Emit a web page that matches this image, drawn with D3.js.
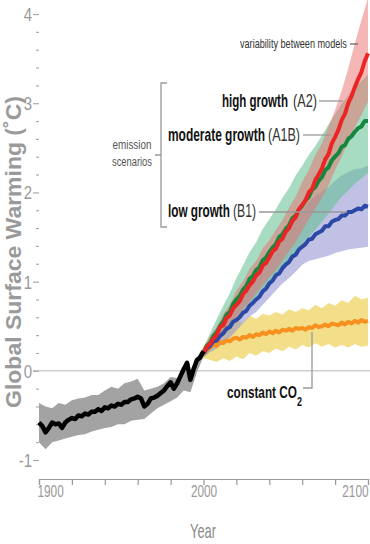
<!DOCTYPE html>
<html><head><meta charset="utf-8">
<script src="https://cdn.jsdelivr.net/npm/d3@7"></script>
<style>
html,body{margin:0;padding:0;background:#fff;}
svg{display:block;}
text{font-family:"Liberation Sans",Arial,sans-serif;}
</style></head><body>
<svg id="chart" width="370" height="544"></svg>
<script>
// ---------- DATA ----------
const histYears = [1900,1902,1904,1906,1908,1910,1912,1914,1916,1918,1920,1922,1924,1926,1928,1930,1932,1934,1936,1938,1940,1942,1944,1946,1948,1950,1952,1954,1956,1958,1960,1962,1964,1966,1968,1970,1972,1974,1976,1978,1980,1982,1984,1986,1988,1990,1992,1994,1996,1998,2000];
const histTemp = [-0.58,-0.62,-0.69,-0.64,-0.58,-0.60,-0.59,-0.64,-0.58,-0.55,-0.53,-0.54,-0.50,-0.51,-0.48,-0.49,-0.46,-0.46,-0.43,-0.45,-0.41,-0.42,-0.39,-0.40,-0.37,-0.38,-0.35,-0.35,-0.32,-0.31,-0.29,-0.31,-0.40,-0.37,-0.31,-0.30,-0.28,-0.25,-0.22,-0.17,-0.13,-0.20,-0.14,-0.06,0.02,0.09,-0.10,0.02,0.12,0.15,0.22];
const histBandYears = [1900,1904,1908,1912,1916,1920,1924,1928,1932,1936,1940,1944,1948,1952,1956,1960,1964,1968,1972,1976,1980,1984,1988,1992,1996,2000];
const histHigh = [-0.36,-0.40,-0.42,-0.36,-0.38,-0.33,-0.31,-0.30,-0.27,-0.27,-0.22,-0.18,-0.20,-0.14,-0.12,-0.09,-0.22,-0.20,-0.18,-0.14,-0.07,-0.08,0.05,-0.04,0.15,0.26];
const histLow  = [-0.80,-0.88,-0.80,-0.78,-0.76,-0.74,-0.72,-0.71,-0.68,-0.66,-0.64,-0.63,-0.60,-0.60,-0.56,-0.55,-0.54,-0.48,-0.42,-0.38,-0.34,-0.30,-0.22,-0.24,-0.02,0.16];

const scenYears = [2000,2002,2004,2006,2008,2010,2012,2014,2016,2018,2020,2022,2024,2026,2028,2030,2032,2034,2036,2038,2040,2042,2044,2046,2048,2050,2052,2054,2056,2058,2060,2062,2064,2066,2068,2070,2072,2074,2076,2078,2080,2082,2084,2086,2088,2090,2092,2094,2096,2098,2100];
const highA2 = [0.20,0.27,0.30,0.36,0.40,0.49,0.51,0.59,0.62,0.70,0.74,0.78,0.86,0.90,0.96,1.00,1.07,1.10,1.18,1.21,1.27,1.34,1.37,1.45,1.48,1.56,1.60,1.68,1.72,1.81,1.86,1.91,2.00,2.04,2.14,2.20,2.27,2.37,2.43,2.55,2.62,2.70,2.81,2.88,3.00,3.08,3.18,3.27,3.35,3.47,3.56];
const moderateA1B = [0.20,0.28,0.31,0.39,0.43,0.50,0.55,0.63,0.66,0.75,0.80,0.84,0.91,0.95,1.03,1.06,1.13,1.16,1.24,1.27,1.33,1.38,1.42,1.50,1.53,1.59,1.63,1.71,1.74,1.81,1.85,1.91,1.95,2.03,2.06,2.13,2.17,2.25,2.28,2.36,2.40,2.44,2.51,2.53,2.60,2.63,2.68,2.72,2.74,2.80,2.80];
const lowB1 = [0.20,0.25,0.28,0.33,0.34,0.39,0.42,0.47,0.49,0.55,0.57,0.60,0.65,0.67,0.73,0.76,0.80,0.83,0.89,0.92,0.98,1.01,1.07,1.09,1.15,1.19,1.22,1.28,1.30,1.36,1.39,1.42,1.47,1.48,1.53,1.55,1.57,1.62,1.62,1.67,1.69,1.70,1.74,1.74,1.78,1.78,1.80,1.82,1.81,1.85,1.84];
const constantCO2 = [0.20,0.24,0.26,0.30,0.28,0.32,0.31,0.34,0.33,0.36,0.37,0.35,0.38,0.37,0.40,0.38,0.41,0.40,0.43,0.41,0.44,0.42,0.45,0.43,0.46,0.45,0.47,0.45,0.48,0.47,0.48,0.46,0.49,0.48,0.51,0.49,0.50,0.52,0.50,0.53,0.52,0.51,0.54,0.52,0.55,0.53,0.56,0.54,0.57,0.55,0.56];

const bandYears = [2000,2004,2008,2012,2016,2020,2024,2028,2032,2036,2040,2044,2048,2052,2056,2060,2064,2068,2072,2076,2080,2084,2088,2092,2096,2100];
const a2High  = [0.25,0.39,0.49,0.64,0.74,0.90,1.00,1.14,1.23,1.37,1.46,1.58,1.69,1.83,1.95,2.12,2.25,2.42,2.55,2.74,2.92,3.14,3.39,3.67,3.93,4.18];
const a2Low   = [0.15,0.23,0.31,0.40,0.49,0.58,0.69,0.77,0.87,0.96,1.05,1.13,1.24,1.34,1.44,1.57,1.70,1.82,1.94,2.08,2.25,2.40,2.58,2.73,2.87,3.02];
const a1bHigh = [0.26,0.42,0.58,0.73,0.87,1.04,1.18,1.33,1.44,1.59,1.70,1.81,1.94,2.05,2.19,2.30,2.42,2.52,2.64,2.76,2.88,2.99,3.09,3.17,3.25,3.32];
const a1bLow  = [0.15,0.23,0.32,0.41,0.49,0.59,0.67,0.76,0.83,0.92,0.99,1.06,1.16,1.24,1.33,1.42,1.50,1.58,1.67,1.76,1.86,1.95,2.02,2.10,2.16,2.22];
const b1High  = [0.25,0.36,0.46,0.58,0.68,0.79,0.90,1.00,1.10,1.21,1.32,1.43,1.53,1.62,1.71,1.80,1.89,1.96,2.01,2.06,2.13,2.19,2.23,2.26,2.27,2.30];
const b1Low   = [0.15,0.21,0.25,0.31,0.37,0.45,0.53,0.61,0.66,0.74,0.82,0.90,0.98,1.04,1.11,1.19,1.23,1.25,1.27,1.29,1.32,1.34,1.36,1.37,1.38,1.39];
const co2High = [0.28,0.38,0.46,0.50,0.55,0.57,0.54,0.62,0.58,0.64,0.62,0.66,0.63,0.69,0.66,0.70,0.68,0.74,0.70,0.76,0.73,0.79,0.76,0.84,0.80,0.82];
const co2Low  = [0.14,0.12,0.10,0.14,0.11,0.16,0.13,0.20,0.17,0.22,0.20,0.25,0.22,0.27,0.24,0.29,0.26,0.31,0.27,0.30,0.26,0.29,0.26,0.30,0.27,0.28];

const yMajorTicks = [-1,0,1,2,3,4];
const xTicks = [1900,1920,1940,1960,1980,2000,2020,2040,2060,2080,2100];
const xTickLabels = [1900,2000,2100];

// ---------- CHART ----------
const svg = d3.select("#chart");
const x = d3.scaleLinear().domain([1900,2100]).range([39,368]);
const y = d3.scaleLinear().domain([-1,4]).range([460,14]);

const ASC = 0.72; // ascender / cap ratio of Liberation Sans
// vertical stretch about the text anchor, to imitate a condensed face
function stretch(sel, k){
  const x0 = +sel.attr("x") || 0, y0 = +sel.attr("y") || 0;
  sel.attr("transform", `translate(${x0},${y0}) scale(1,${k}) translate(${-x0},${-y0})`);
  return sel;
}
// width-fit the font size, then stretch vertically to a target glyph height
function fitBox(sel, targetW, targetH){
  const w = sel.node().getComputedTextLength();
  const fs = parseFloat(sel.style("font-size"));
  const nfs = fs * targetW / w;
  sel.style("font-size", nfs.toFixed(2) + "px");
  return stretch(sel, targetH / (ASC * nfs));
}

// zero line
svg.append("line").attr("x1",33).attr("x2",370).attr("y1",y(0)).attr("y2",y(0))
  .attr("stroke","#cfcfcf").attr("stroke-width",1.6);

// y axis (major)
const gy = svg.append("g").attr("transform","translate(39,0)")
  .call(d3.axisLeft(y).tickValues(yMajorTicks).tickSize(6).tickPadding(2).tickFormat(d => String(d)));
gy.select(".domain").remove();
gy.selectAll(".tick line").attr("stroke","#aaa").attr("stroke-width",1.2);
gy.selectAll(".tick text").each(function(){
  const t = d3.select(this).attr("dy", null).attr("y", 6.5).attr("x", -7)
    .attr("fill","#9a9a9a").style("font-size","15px");
  stretch(t, 13 / (ASC * 15));
});

// y axis (minor)
const minor = d3.range(-1, 4.01, 0.2).filter(v => Math.abs(v - Math.round(v)) > 0.01);
const gm = svg.append("g").attr("transform","translate(39,0)")
  .call(d3.axisLeft(y).tickValues(minor).tickSize(3).tickFormat(""));
gm.select(".domain").remove();
gm.selectAll(".tick line").attr("stroke","#aaa").attr("stroke-width",1.2);

// x axis
const gx = svg.append("g").attr("transform","translate(0,479)")
  .call(d3.axisBottom(x).tickValues(xTicks).tickSize(6).tickPadding(3)
    .tickFormat(d => xTickLabels.includes(d) ? String(d) : ""));
gx.select(".domain").attr("stroke","#999").attr("stroke-width",1.2);
gx.selectAll(".tick line").attr("stroke","#999").attr("stroke-width",1.2);
gx.selectAll(".tick text").each(function(d){
  const t = d3.select(this).attr("dy", null).attr("y", 18)
    .attr("x", d === 1900 ? -2 : 0)
    .attr("text-anchor", d === 1900 ? "start" : (d === 2100 ? "end" : "middle"))
    .attr("fill","#999").style("font-size","11.8px");
  stretch(t, 12.5 / (ASC * 11.8));
});

// axis titles
const yr = svg.append("text").attr("x",203).attr("y",538).attr("text-anchor","middle")
  .attr("fill","#8a8a8a").style("font-size","12px").text("Year");
fitBox(yr, 26, 14.5);
const yt = svg.append("text").attr("x",0).attr("y",0).attr("text-anchor","middle")
  .attr("fill","#9a9a9a").style("font-size","16px").style("font-weight","bold")
  .text("Global Surface Warming (˚C)");
(function(){
  const w = yt.node().getComputedTextLength();
  yt.style("font-size", (16*312/w).toFixed(2)+"px");
  yt.attr("transform","translate(21,252) rotate(-90)");
})();

// bands
function band(years, lo, hi, fill, op){
  const area = d3.area().x((d,i)=>x(years[i])).y0((d,i)=>y(lo[i])).y1((d,i)=>y(hi[i]));
  svg.append("path").attr("d", area(years)).attr("fill", fill).attr("fill-opacity", op);
}
band(histBandYears, histLow, histHigh, "#a3a3a3", 1);
band(bandYears, co2Low, co2High, "#f2dc7c", 0.9);
band(bandYears, b1Low, b1High, "#8c8ed0", 0.55);
band(bandYears, a1bLow, a1bHigh, "#5fc090", 0.55);
band(bandYears, a2Low, a2High, "#ec6e6e", 0.5);

// lines
function line(years, vals, color, w){
  const ln = d3.line().x((d,i)=>x(years[i])).y((d,i)=>y(vals[i]));
  svg.append("path").attr("d", ln(vals)).attr("fill","none").attr("stroke",color)
    .attr("stroke-width",w).attr("stroke-linejoin","round");
}
line(scenYears, constantCO2, "#f7901e", 4);
line(scenYears, lowB1, "#2c48a6", 4);
line(scenYears, moderateA1B, "#15873f", 4);
line(scenYears, highA2, "#ec2424", 4);
line(histYears, histTemp, "#000", 4.5);

// annotations
function label(x0, yb, bold, w1, x1, light, w2, h){
  const a = svg.append("text").attr("x",x0).attr("y",yb).attr("fill","#111")
    .style("font-size","16px").style("font-weight","bold").text(bold);
  fitBox(a, w1, h);
  const b = svg.append("text").attr("x",x1).attr("y",yb).attr("fill","#333")
    .style("font-size","16px").text(light);
  fitBox(b, w2, h);
}
label(222,107,"high growth",66, 293,"(A2)",24, 13.5);
label(168,141,"moderate growth",97, 268,"(A1B)",32, 13.5);
label(168,217,"low growth",62, 233,"(B1)",23, 13.5);

const lead = svg.append("g").attr("stroke","#999").attr("stroke-width",1.3).attr("fill","none");
lead.append("line").attr("x1",319).attr("x2",343).attr("y1",101).attr("y2",101);
lead.append("line").attr("x1",303).attr("x2",331).attr("y1",135).attr("y2",135);
lead.append("line").attr("x1",259).attr("x2",347).attr("y1",212).attr("y2",212);
lead.append("path").attr("d","M303,388H312V332");
lead.append("line").attr("x1",350).attr("x2",358).attr("y1",44).attr("y2",44).attr("stroke","#666");
// bracket
lead.append("path").attr("d","M167,83H161V227H167M161,155H155");

const vb = svg.append("text").attr("x",240).attr("y",48).attr("fill","#333").style("font-size","12px")
  .text("variability between models");
fitBox(vb, 107, 9.5);

const em = svg.append("text").attr("x",132).attr("y",149).attr("text-anchor","middle")
  .attr("fill","#555").style("font-size","12px").text("emission");
fitBox(em, 39, 9);
const sc = svg.append("text").attr("x",132).attr("y",166).attr("text-anchor","middle")
  .attr("fill","#555").style("font-size","12px").text("scenarios");
fitBox(sc, 40, 9);

const co = svg.append("text").attr("x",227).attr("y",398).attr("fill","#111").style("font-size","16px")
  .style("font-weight","bold").text("constant CO");
fitBox(co, 70, 12.5);
const c2 = svg.append("text").attr("x",297).attr("y",406).attr("fill","#111").style("font-size","9px")
  .style("font-weight","bold").text("2");
stretch(c2, 1.4);
</script>
</body></html>
